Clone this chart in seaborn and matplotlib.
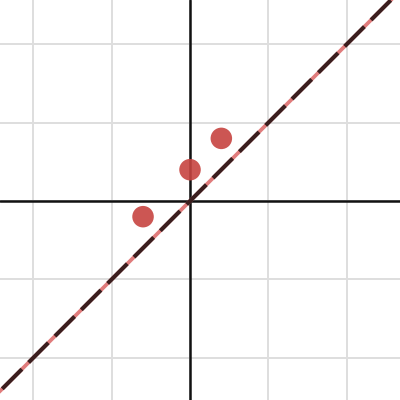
import numpy as np
import pandas as pd
import matplotlib
matplotlib.use("Agg")
import matplotlib.pyplot as plt
import seaborn as sns

# ==========================================
# Data
# ==========================================

point_x = [-0.6, 0.0, 0.4]
point_y = [-0.2, 0.4, 0.8]

line_x = [-3.0, 3.0]
line_y = [-3.0, 3.0]

grid_ticks = [-2, -1, 0, 1, 2]

points = pd.DataFrame({"x": point_x, "y": point_y})
line = pd.DataFrame({"x": line_x, "y": line_y})

# ==========================================
# Plot
# ==========================================

sns.set_style("white")

fig = plt.figure(figsize=(4, 4), dpi=100)
ax = fig.add_axes([0, 0, 1, 1])

ax.set_xlim(-2.427, 2.682)
ax.set_ylim(-2.541, 2.567)

for t in grid_ticks:
    ax.axvline(t, color="#dedede", lw=1.4, zorder=0)
    ax.axhline(t, color="#dedede", lw=1.4, zorder=0)

ax.axvline(0, color="#111111", lw=1.8, zorder=1)
ax.axhline(0, color="#111111", lw=1.8, zorder=1)

# pink base line with dark dashes on top
sns.lineplot(data=line, x="x", y="y", ax=ax, color="#e07c7c",
             lw=2.7, zorder=2)
sns.lineplot(data=line, x="x", y="y", ax=ax, color="#3b1e1e",
             lw=2.9, linestyle=(8.1, (6.9, 2.35)), zorder=3)

sns.scatterplot(data=points, x="x", y="y", ax=ax, color="#c74440",
                s=240, alpha=0.9, edgecolor="none", zorder=4)

ax.set_xticks([])
ax.set_yticks([])
ax.set_xlabel("")
ax.set_ylabel("")
for spine in ax.spines.values():
    spine.set_visible(False)

fig.savefig("out.png", dpi=100)
